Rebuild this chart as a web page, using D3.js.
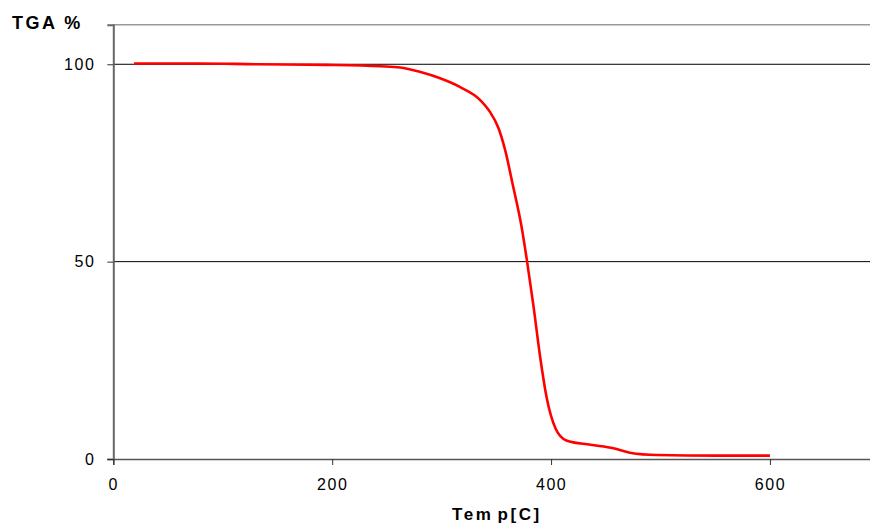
<!DOCTYPE html>
<html>
<head>
<meta charset="utf-8">
<script src="https://cdn.jsdelivr.net/npm/d3@7"></script>
<style>
  html, body { margin: 0; padding: 0; background: #fff; }
  svg { display: block; font-family: "Liberation Sans", Arial, sans-serif; }
</style>
</head>
<body>
<svg id="chart" width="870" height="529"></svg>
<script>
// Thermogravimetric curve: remaining mass (%) against temperature (°C)
const temps = [19, 79, 131, 195, 244, 262, 280, 298, 317, 335, 344, 352, 358, 365, 373, 378, 384, 390, 396, 404, 414, 436, 457, 472, 497, 551, 600];
const tga   = [100.2, 100.2, 100.0, 99.85, 99.5, 99.2, 98.1, 96.5, 94.2, 91.0, 88.0, 83.8, 78.3, 69.5, 58.9, 50.2, 38.6, 25.9, 15.5, 7.8, 4.7, 3.6, 2.7, 1.6, 1.0, 0.85, 0.85];
const xTicks = [0, 200, 400, 600];
const yTicks = [0, 50, 100];
const yGrid = [50, 100];

const svg = d3.select("#chart");
const plotLeft = 113.3, plotRight = 879.4, plotTop = 24.8, plotBottom = 459;

const x = d3.scaleLinear().domain([0, 700]).range([plotLeft, plotRight]);
const y = d3.scaleLinear().domain([0, 110]).range([plotBottom, plotTop]);

// plot frame (top edge)
svg.append("line")
  .attr("x1", plotLeft).attr("x2", plotRight)
  .attr("y1", y(110)).attr("y2", y(110))
  .attr("stroke", "#999").attr("stroke-width", 1.5);

// horizontal gridlines
svg.append("g").selectAll("line").data(yGrid).join("line")
  .attr("x1", plotLeft).attr("x2", plotRight)
  .attr("y1", d => y(d)).attr("y2", d => y(d))
  .attr("stroke", "#000").attr("stroke-width", 1);

// y axis
const yAxis = svg.append("g")
  .attr("transform", `translate(${plotLeft},0)`)
  .call(d3.axisLeft(y).tickValues(yTicks).tickSize(6).tickPadding(12).tickFormat(d3.format("d")));
yAxis.select(".domain").attr("stroke", "#666").attr("stroke-width", 2);
yAxis.selectAll(".tick line").attr("stroke", "#333");
yAxis.selectAll(".tick text")
  .attr("font-size", 16).attr("fill", "#000")
  .attr("font-family", "Liberation Sans, Arial, sans-serif")
  .style("letter-spacing", "1.5px");

// x axis
const xAxis = svg.append("g")
  .attr("transform", `translate(0,${plotBottom})`)
  .call(d3.axisBottom(x).tickValues(xTicks).tickSize(6).tickPadding(14).tickFormat(d3.format("d")));
xAxis.select(".domain").attr("stroke", "#555").attr("stroke-width", 1.5);
xAxis.selectAll(".tick line").attr("stroke", "#333");
xAxis.selectAll(".tick text")
  .attr("font-size", 16).attr("fill", "#000")
  .attr("font-family", "Liberation Sans, Arial, sans-serif")
  .style("letter-spacing", "1.5px");

// mass-loss curve
const line = d3.line()
  .x((d, i) => x(temps[i]))
  .y(d => y(d))
  .curve(d3.curveMonotoneX);
svg.append("path")
  .datum(tga)
  .attr("d", line)
  .attr("fill", "none")
  .attr("stroke", "#ff0000")
  .attr("stroke-width", 2.6)
  .attr("stroke-linejoin", "round");

// axis titles
svg.append("text")
  .attr("x", 12).attr("y", 29)
  .attr("font-size", 18).attr("font-weight", "bold")
  .style("letter-spacing", "2.5px")
  .text("TGA %");

const xTitle = svg.append("text")
  .attr("x", 452).attr("y", 520)
  .attr("font-size", 17).attr("font-weight", "bold")
  .style("letter-spacing", "2.6px");
xTitle.append("tspan").text("Tem");
xTitle.append("tspan").attr("dx", 4).text("p[C]");
</script>
</body>
</html>
